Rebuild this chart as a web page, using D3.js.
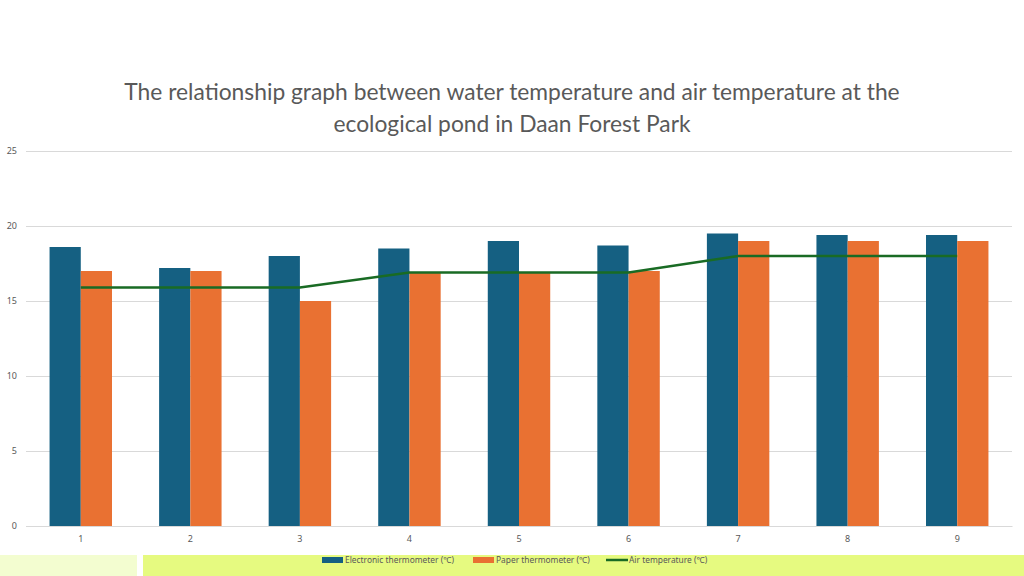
<!DOCTYPE html>
<html>
<head>
<meta charset="utf-8">
<script src="https://cdn.jsdelivr.net/npm/d3@7"></script>
<style>
  body { margin: 0; background: #fff; }
  svg { display: block; }
</style>
</head>
<body>
<div id="chart"></div>
<script>
// data
const categories = ["1", "2", "3", "4", "5", "6", "7", "8", "9"];
const electronic = [18.6, 17.2, 18.0, 18.5, 19.0, 18.7, 19.5, 19.4, 19.4];
const paper = [17, 17, 15, 16.9, 16.9, 17, 19, 19, 19];
const air = [15.9, 15.9, 15.9, 16.9, 16.9, 16.9, 18, 18, 18];
const yTicks = [0, 5, 10, 15, 20, 25];
const seriesNames = ["Electronic thermometer (℃)", "Paper thermometer (℃)", "Air temperature (℃)"];
const titleLines = [
  "The relationship graph between water temperature and air temperature at the",
  "ecological pond in Daan Forest Park"
];

const width = 1024, height = 576;
const margin = {top: 151, right: 12, bottom: 50, left: 26};
const colors = ["#156082", "#E97132", "#196B24"];

const svg = d3.select("#chart").append("svg")
  .attr("width", width)
  .attr("height", height);

// bottom bands
svg.append("rect").attr("x", 0).attr("y", 555).attr("width", 137).attr("height", 21).attr("fill", "#f3fdd0");
svg.append("rect").attr("x", 143).attr("y", 555).attr("width", width - 143).attr("height", 21).attr("fill", "#e6fa80");

// title
svg.append("g").selectAll("text")
  .data(titleLines)
  .enter()
  .append("text")
  .attr("x", width / 2)
  .attr("y", (d, i) => 100 + i * 32)
  .attr("text-anchor", "middle")
  .attr("font-family", "Lato, 'Noto Sans', sans-serif")
  .attr("font-size", 22.8)
  .attr("fill", "#595959")
  .text(d => d);

const x = d3.scaleBand()
  .domain(categories)
  .range([margin.left, width - margin.right]);

const x1 = d3.scaleBand()
  .domain([0, 1])
  .range([0, x.bandwidth() * 0.57])
  .paddingInner(0);

const y = d3.scaleLinear()
  .domain([0, 25])
  .range([height - margin.bottom, margin.top]);

// gridlines and y labels
const yAxis = g => g
  .attr("transform", `translate(${margin.left},0)`)
  .call(d3.axisLeft(y).tickValues(yTicks).tickSize(0).tickPadding(9))
  .call(g => g.select(".domain").remove())
  .call(g => g.selectAll(".tick line").clone()
    .attr("stroke", "#d9d9d9")
    .attr("x2", width - margin.left - margin.right))
  .call(g => g.selectAll(".tick text")
    .attr("fill", "#595959")
    .attr("font-family", "'Liberation Sans Narrow', 'Noto Sans', sans-serif")
    .attr("font-size", 9));
svg.append("g").call(yAxis);

const xAxis = g => g
  .attr("transform", `translate(0,${height - margin.bottom})`)
  .call(d3.axisBottom(x).tickSize(0).tickPadding(10))
  .call(g => g.select(".domain").attr("stroke", "#d9d9d9"))
  .call(g => g.selectAll(".tick text")
    .attr("fill", "#595959")
    .attr("font-family", "'Liberation Sans Narrow', 'Noto Sans', sans-serif")
    .attr("font-size", 9));

// bars
const groupOffset = (x.bandwidth() - x1.range()[1]) / 2;
[electronic, paper].forEach((vals, s) => {
  svg.append("g").selectAll("rect")
    .data(vals)
    .enter()
    .append("rect")
    .attr("x", (d, i) => x(categories[i]) + groupOffset + x1(s))
    .attr("y", d => y(d))
    .attr("width", x1.bandwidth())
    .attr("height", d => y(0) - y(d))
    .attr("fill", colors[s]);
});

svg.append("g").call(xAxis);

// air temperature line
const line = d3.line()
  .x((d, i) => x(categories[i]) + x.bandwidth() / 2)
  .y(d => y(d));
svg.append("path")
  .datum(air)
  .attr("fill", "none")
  .attr("stroke", colors[2])
  .attr("stroke-width", 2.5)
  .attr("d", line);

// legend
const legendX = [322, 473, 606];
const legend = svg.append("g")
  .attr("font-family", "'Liberation Sans Narrow', 'Noto Sans', sans-serif")
  .attr("font-size", 8.4)
  .attr("fill", "#595959");
seriesNames.forEach((name, i) => {
  const g = legend.append("g").attr("transform", `translate(${legendX[i]},560)`);
  if (i < 2) {
    g.append("rect").attr("x", 0).attr("y", -3).attr("width", 21).attr("height", 6).attr("fill", colors[i]);
  } else {
    g.append("line").attr("x1", 0).attr("x2", 22).attr("stroke", colors[i]).attr("stroke-width", 2.5);
  }
  g.append("text").attr("x", 23).attr("y", 3).text(name);
});
</script>
</body>
</html>
